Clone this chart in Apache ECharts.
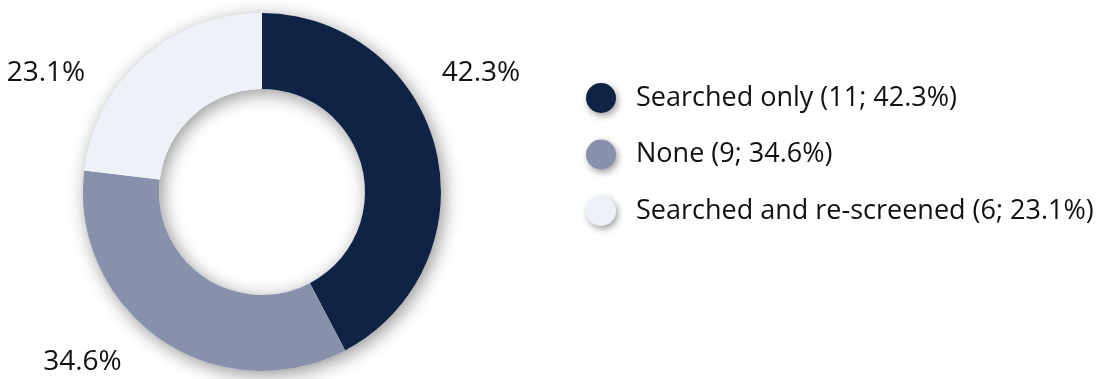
<!DOCTYPE html>
<html>
<head>
<meta charset="utf-8">
<script src="https://cdn.jsdelivr.net/npm/echarts@6/dist/echarts.min.js"></script>
<style>
  html, body { margin: 0; padding: 0; background: #ffffff; }
  #chart { width: 1110px; height: 379px; }
</style>
</head>
<body>
<div id="chart"></div>
<script>
// Screening outcome categories and their counts
const categories = ['Searched only', 'None', 'Searched and re-screened'];
const counts = [11, 9, 6];
const colors = ['#0f2344', '#8891ab', '#edf2f8'];

const FONT = '"Open Sans", "Noto Sans", sans-serif';
const TEXT_COLOR = '#111111';

const total = counts.reduce((a, b) => a + b, 0);
const pct = v => (v / total * 100).toFixed(1);

// Outer-label anchor offsets from the ring centre, per slice
const labelOffsets = [[219, -118.5], [-179.5, 170], [-216, -118.5]];

const CX = 262, CY = 192, R_IN = 103, R_OUT = 179;

const chart = echarts.init(document.getElementById('chart'), null, { renderer: 'canvas' });

chart.setOption({
  backgroundColor: '#ffffff',
  animation: false,
  legend: {
    orient: 'vertical',
    left: 581,
    top: 78,
    itemWidth: 30,
    itemHeight: 30,
    itemGap: 26.5,
    icon: 'circle',
    data: categories,
    itemStyle: {
      borderWidth: 0,
      shadowBlur: 7,
      shadowColor: 'rgba(0,0,0,0.38)',
      shadowOffsetX: 2,
      shadowOffsetY: 3
    },
    textStyle: {
      fontFamily: FONT,
      fontSize: 27,
      color: TEXT_COLOR,
      padding: [0, 0, 0, 15]
    },
    formatter: name => {
      const i = categories.indexOf(name);
      return name + ' (' + counts[i] + '; ' + pct(counts[i]) + '%)';
    }
  },
  series: [
    {
      // soft drop shadow under the ring
      type: 'pie',
      name: 'ring-shadow',
      silent: true,
      center: [CX, CY],
      radius: [R_IN, R_OUT],
      label: { show: false },
      labelLine: { show: false },
      z: 1,
      itemStyle: {
        color: '#ffffff',
        shadowBlur: 18,
        shadowColor: 'rgba(0,0,0,0.42)',
        shadowOffsetX: 3,
        shadowOffsetY: 4
      },
      data: [{ value: 1, name: '' }]
    },
    {
      type: 'pie',
      name: 'Screening',
      center: [CX, CY],
      radius: [R_IN, R_OUT],
      startAngle: 90,
      clockwise: true,
      z: 2,
      percentPrecision: 1,
      itemStyle: { borderWidth: 0 },
      label: {
        show: true,
        position: 'outside',
        fontFamily: FONT,
        fontSize: 28,
        color: TEXT_COLOR,
        formatter: p => p.percent.toFixed(1) + '%'
      },
      labelLine: { show: false },
      labelLayout: p => {
        const o = labelOffsets[p.dataIndex];
        return { x: CX + o[0], y: CY + o[1], align: 'center', verticalAlign: 'middle' };
      },
      emphasis: { disabled: true },
      data: categories.map((c, i) => ({
        name: c,
        value: counts[i],
        itemStyle: { color: colors[i] }
      }))
    }
  ]
});
</script>
</body>
</html>
